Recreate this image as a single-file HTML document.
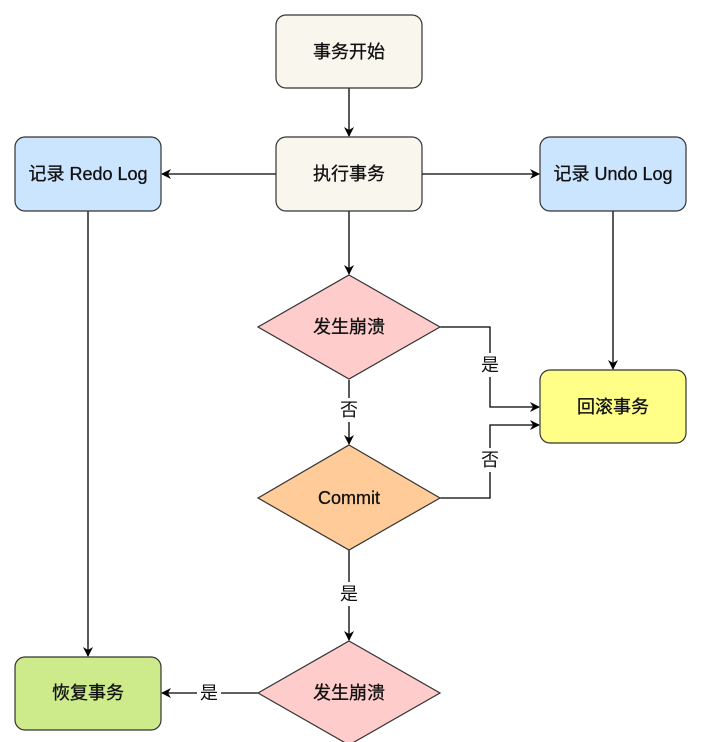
<!DOCTYPE html>
<html><head><meta charset="utf-8"><style>
html,body{margin:0;padding:0;background:#fff;width:718px;height:742px;overflow:hidden}
text{font-family:"Liberation Sans","Noto Sans CJK SC",sans-serif;font-size:18px;fill:#111}
.n{stroke:#111;stroke-width:0.3}
</style></head><body>
<svg width="718" height="742" viewBox="0 0 718 742" xmlns="http://www.w3.org/2000/svg">
<defs><marker id="a" markerWidth="10" markerHeight="10" refX="9" refY="5" orient="auto" markerUnits="userSpaceOnUse"><path d="M0,0 L10,5 L0,10 L3,5 z" fill="#000"/></marker></defs>
<g stroke="#000" stroke-width="1.3" fill="none">
<line x1="349" y1="88" x2="349" y2="136" marker-end="url(#a)"/>
<line x1="276" y1="174" x2="162" y2="174" marker-end="url(#a)"/>
<line x1="422" y1="174" x2="539" y2="174" marker-end="url(#a)"/>
<line x1="349" y1="211" x2="349" y2="274" marker-end="url(#a)"/>
<line x1="613" y1="211" x2="613" y2="369" marker-end="url(#a)"/>
<line x1="88" y1="211" x2="88" y2="656" marker-end="url(#a)"/>
<polyline points="440,327 490,327 490,407 539,407" marker-end="url(#a)"/>
<polyline points="440,498 490,498 490,425 539,425" marker-end="url(#a)"/>
<line x1="349" y1="380" x2="349" y2="444" marker-end="url(#a)"/>
<line x1="349" y1="550" x2="349" y2="640" marker-end="url(#a)"/>
<line x1="258" y1="693" x2="162" y2="693" marker-end="url(#a)"/>
</g>
<g stroke="#333" stroke-width="1.2">
<rect x="276" y="15" width="146" height="73" rx="10" fill="#f9f7ed"/>
<rect x="276" y="137" width="146" height="74" rx="10" fill="#f9f7ed"/>
<rect x="15" y="137" width="146" height="74" rx="10" fill="#cce5ff"/>
<rect x="540" y="137" width="146" height="74" rx="10" fill="#cce5ff"/>
<rect x="540" y="370" width="146" height="73" rx="10" fill="#ffff88"/>
<rect x="15" y="657" width="146" height="73" rx="10" fill="#cdeb8b"/>
<polygon points="349,275 440,327 349,379 258,327" fill="#ffcccc"/>
<polygon points="349,445 440,498 349,550 258,498" fill="#ffcc99"/>
<polygon points="349,641 440,693 349,745 258,693" fill="#ffcccc"/>
</g>
<g fill="#fff">
<rect x="479" y="353" width="22" height="24"/>
<rect x="479" y="448" width="22" height="24"/>
<rect x="338" y="398" width="22" height="24"/>
<rect x="338" y="582" width="22" height="24"/>
<rect x="197" y="681" width="24" height="24"/>
</g>
<g text-anchor="middle" dominant-baseline="central">
<text class="n" x="349" y="52">事务开始</text>
<text class="n" x="349" y="174">执行事务</text>
<text class="n" x="88" y="174">记录 Redo Log</text>
<text class="n" x="613" y="174">记录 Undo Log</text>
<text class="n" x="613" y="407">回滚事务</text>
<text class="n" x="88" y="693">恢复事务</text>
<text class="n" x="349" y="327">发生崩溃</text>
<text class="n" x="349" y="498">Commit</text>
<text class="n" x="349" y="693">发生崩溃</text>
<text x="490" y="365">是</text>
<text x="490" y="460">否</text>
<text x="349" y="410">否</text>
<text x="349" y="594">是</text>
<text x="209" y="693">是</text>
</g>
</svg>
</body></html>
